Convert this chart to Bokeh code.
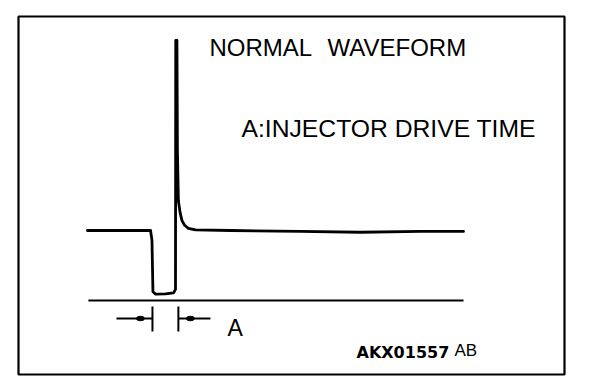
from bokeh.plotting import figure
from bokeh.models import Range1d, Label
from bokeh.embed import file_html
from bokeh.resources import INLINE

# ---- data: injector waveform (time in ms, voltage in V) ----
wave_time = [-2.67, -0.04, 0.02, 0.06, 0.17, 0.58, 0.92, 1.00, 1.01, 1.06,
             1.08, 1.12, 1.19, 1.27, 1.38, 1.54, 1.83, 3.30, 6.20, 8.70,
             11.20, 13.00]
wave_volt = [12.0, 12.0, 10.3, 1.5, 1.1, 1.15, 1.3, 1.9, 44.6, 44.6,
             25.7, 17.1, 15.1, 13.7, 12.9, 12.35, 12.1, 12.0, 11.85, 11.7,
             11.85, 11.85]
ground_time = [-2.63, 13.0]
ground_volt = [0.0, 0.0]

# injector drive time A (start / end of the dimension marks, ms)
drive_marks = [0.04, 1.12]

# texts
title_words = ["NORMAL", "WAVEFORM"]
note_text = "A:INJECTOR DRIVE TIME"
dim_text = "A"
code_text = "AKX01557"
code_suffix = "AB"

# ---- layout scale ----
PX_MS = 24.0          # pixels per ms
PX_V = 70.0 / 12.0    # pixels per volt
X0, Y0 = 151.0, 300.0  # pixel position of t=0, v=0
FL, FR, FT, FB = 18, 564, 16, 374  # frame edges (pixels)


def dx(px):
    return (px - X0) / PX_MS


def dy(py):
    return (Y0 - py) / PX_V


p = figure(width=608, height=390, output_backend="svg", toolbar_location=None,
           x_range=Range1d(dx(FL), dx(FR)), y_range=Range1d(dy(FB), dy(FT)),
           x_axis_location=None, y_axis_location=None,
           min_border_left=FL, min_border_right=608 - FR,
           min_border_top=FT, min_border_bottom=390 - FB)
p.grid.visible = False
p.outline_line_color = "black"
p.outline_line_width = 2.2
p.outline_line_alpha = 1.0
p.background_fill_color = "white"
p.border_fill_color = "white"

# ground reference line
p.line(ground_time, ground_volt, line_color="black", line_width=2.2)
# waveform
p.line(wave_time, wave_volt, line_color="black", line_width=2.8,
       line_join="round", line_cap="round")

# dimension marks
tick_top, tick_bot, arrow_v = dy(306), dy(331), dy(318)
p.segment(x0=drive_marks, y0=[tick_top] * 2, x1=drive_marks, y1=[tick_bot] * 2,
          line_color="black", line_width=2)
tail = 1.5
p.segment(x0=[drive_marks[0] - tail, drive_marks[1]], y0=[arrow_v] * 2,
          x1=[drive_marks[0], drive_marks[1] + tail * 0.89], y1=[arrow_v] * 2,
          line_color="black", line_width=2)
p.ellipse(x=[drive_marks[0] - 0.5, drive_marks[1] + 0.5], y=[arrow_v] * 2,
          width=8, height=4.5, width_units="screen", height_units="screen",
          fill_color="black", line_color="black")

font = "Liberation Sans"
for word, px in zip(title_words, [209, 327]):
    p.add_layout(Label(x=dx(px), y=dy(47), text=word, text_font=font,
                       text_font_size="24px", text_color="black",
                       text_baseline="alphabetic", text_align="left"))
p.add_layout(Label(x=dx(241), y=dy(128), text=note_text, text_font=font,
                   text_font_size="24.7px", text_color="black",
                   text_baseline="alphabetic", text_align="left"))
p.add_layout(Label(x=dx(227), y=dy(327), text=dim_text, text_font=font,
                   text_font_size="23px", text_color="black",
                   text_baseline="alphabetic", text_align="left"))
p.add_layout(Label(x=dx(356), y=dy(352), text=code_text, text_font="DejaVu Sans",
                   text_font_style="bold", text_font_size="16px",
                   text_color="black", text_baseline="alphabetic",
                   text_align="left"))
p.add_layout(Label(x=dx(454), y=dy(350), text=code_suffix, text_font=font,
                   text_font_size="17px", text_color="black",
                   text_baseline="alphabetic", text_align="left"))

open("out.html", "w").write(file_html(p, INLINE))
